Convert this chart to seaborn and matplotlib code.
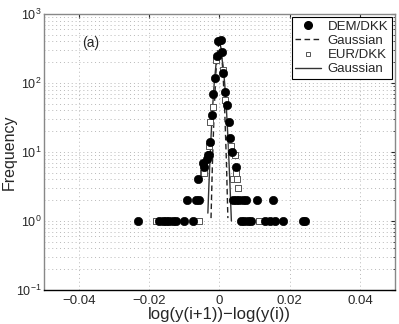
import numpy as np
import pandas as pd
import matplotlib
matplotlib.use("Agg")
import matplotlib.pyplot as plt
import matplotlib.ticker as mticker
from matplotlib.lines import Line2D
import seaborn as sns

# DEM/DKK histogram points (return, count)
dem_x = [-0.0004, 0.0004, -0.0008, 0.0007, -0.0012, 0.0011, -0.0017, 0.0015,
         0.0022, -0.0021, 0.0026, -0.0027, 0.0031, -0.0031, 0.0035, -0.0033,
         -0.0036, -0.0048, -0.0043, 0.0048, -0.0060,
         -0.0093, -0.0067, -0.0059, 0.0038, 0.0048, 0.0057, 0.0067, 0.0076,
         0.0108, 0.0152,
         -0.0233, -0.0171, -0.0162, -0.0152, -0.0143, -0.0133, -0.0124,
         -0.0100, -0.0076, 0.0062, 0.0071, 0.0081, 0.0090, 0.0129, 0.0143,
         0.0157, 0.0181, 0.0238, 0.0243]
dem_y = [410, 420, 249, 284, 119, 138, 69, 75,
         48, 34, 27, 14, 16, 9, 10, 9,
         8, 7, 6, 6, 4,
         2, 2, 2, 2, 2, 2, 2, 2,
         2, 2,
         1, 1, 1, 1, 1, 1, 1,
         1, 1, 1, 1, 1, 1, 1, 1,
         1, 1, 1, 1]

# EUR/DKK histogram points
eur_x = [-0.0009, 0.0009, -0.0019, 0.0016, -0.0027, -0.0031, 0.0034,
         0.0043, -0.0048, -0.0045, 0.0047, 0.0039, 0.0050, 0.0054,
         -0.0181, -0.0058, 0.0113]
eur_y = [215, 155, 45, 56, 27, 12, 12,
         9, 5, 5, 5, 4, 4, 3,
         1, 1, 1]

# Gaussian fits
gauss_dem_x = [-0.0024, -0.002, -0.0015, -0.001, -0.0005, 0.0, 0.0005, 0.001,
               0.0015, 0.002, 0.0024]
gauss_dem_y = [1.1, 6.8, 40, 144, 310, 400, 310, 144, 40, 6.8, 1.1]
gauss_eur_x = [-0.0033, -0.003, -0.0025, -0.002, -0.0015, -0.001, -0.0005,
               0.0, 0.0005, 0.001, 0.0015, 0.002, 0.0025, 0.003, 0.0034]
gauss_eur_y = [1.3, 3.3, 13.2, 40.6, 97, 182, 265, 300, 265, 182, 97, 40.6,
               13.2, 3.3, 1.0]

xticks = [-0.04, -0.02, 0, 0.02, 0.04]
xtick_labels = ["\u22120.04", "\u22120.02", "0", "0.02", "0.04"]

sns.set_style("white")
plt.rcParams['font.family'] = ['Liberation Sans', 'DejaVu Sans']
plt.rcParams['mathtext.fontset'] = 'custom'
plt.rcParams['mathtext.rm'] = 'Liberation Sans'
plt.rcParams['mathtext.it'] = 'Liberation Sans'

fig = plt.figure(figsize=(3.99, 3.24), dpi=100)
ax = fig.add_axes([0.110, 0.105, 0.880, 0.852])

dem = pd.DataFrame({'x': dem_x, 'y': dem_y})
eur = pd.DataFrame({'x': eur_x, 'y': eur_y})
g1 = pd.DataFrame({'x': gauss_dem_x, 'y': gauss_dem_y})
g2 = pd.DataFrame({'x': gauss_eur_x, 'y': gauss_eur_y})

sns.lineplot(data=g1, x='x', y='y', ax=ax, color='#222222', lw=1.0,
             linestyle=(0, (4, 2.5)), sort=False, estimator=None, zorder=2)
sns.lineplot(data=g2, x='x', y='y', ax=ax, color='#333333', lw=1.0,
             sort=False, estimator=None, zorder=2)
sns.scatterplot(data=eur, x='x', y='y', ax=ax, marker='s', s=14,
                facecolor='white', edgecolor='#555555', linewidth=0.7, zorder=3)
sns.scatterplot(data=dem, x='x', y='y', ax=ax, marker='o', s=36,
                color='black', edgecolor='black', zorder=4)

ax.set_yscale('log')
ax.set_xlim(-0.05, 0.05)
ax.set_ylim(0.1, 1000)
ax.set_xticks(xticks)
ax.set_xticklabels(xtick_labels)
ax.yaxis.set_major_locator(mticker.LogLocator(base=10, numticks=10))
ax.yaxis.set_minor_locator(mticker.LogLocator(base=10, subs=np.arange(2, 10), numticks=20))
ax.yaxis.set_minor_formatter(mticker.NullFormatter())

grid_style = dict(color='#b8b8b8', linestyle=(0, (1, 3)), lw=0.7)
ax.grid(True, which='major', axis='both', **grid_style)
ax.grid(True, which='minor', axis='y', **grid_style)

ax.tick_params(which='both', direction='in', top=True, right=True, labelsize=9.5, length=3)
ax.tick_params(which='minor', length=1.5)
ax.tick_params(axis='y', which='major', pad=1.5, labelsize=9)
for side in ['left', 'top', 'right']:
    ax.spines[side].set_color('#888888')
ax.spines['bottom'].set_color('black')
for s in ax.spines.values():
    s.set_linewidth(1.0)

ax.set_xlabel('log(y(i+1))\u2212log(y(i))', fontsize=12, labelpad=0)
ax.set_ylabel('Frequency', fontsize=11.5)
ax.yaxis.set_label_coords(-0.078, 0.5)

ax.text(0.11, 0.895, '(a)', transform=ax.transAxes, fontsize=10, va='center')

handles = [
    Line2D([], [], marker='o', color='black', linestyle='none', markersize=5.5),
    Line2D([], [], color='#222222', lw=1.0, linestyle=(0, (4, 2.5))),
    Line2D([], [], marker='s', markerfacecolor='white', markeredgecolor='#555555',
           linestyle='none', markersize=3.5, markeredgewidth=0.7),
    Line2D([], [], color='#333333', lw=1.0),
]
labels = ['DEM/DKK', 'Gaussian', 'EUR/DKK', 'Gaussian']
leg = ax.legend(handles, labels, loc='upper right', fontsize=9.5, frameon=True,
                fancybox=False, framealpha=1, edgecolor='black',
                borderaxespad=0.25, handlelength=2.0, handletextpad=0.5,
                labelspacing=0.15, borderpad=0.25)
leg.get_frame().set_linewidth(0.8)

fig.savefig('out.png', dpi=100)
